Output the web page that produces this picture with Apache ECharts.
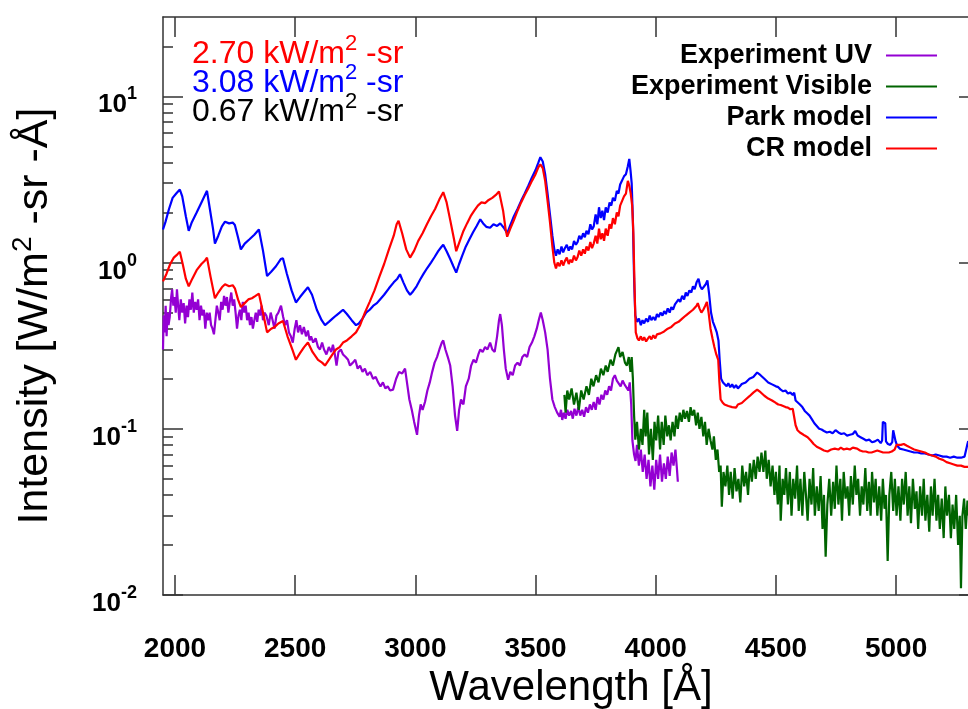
<!DOCTYPE html>
<html><head><meta charset="utf-8">
<script src="https://cdn.jsdelivr.net/npm/echarts@6/dist/echarts.min.js"></script>
<style>html,body{margin:0;padding:0;background:#fff}#c{width:968px;height:709px}</style>
</head><body><div id="c"></div>
<script>
const seriesNames = ['Experiment UV','Experiment Visible','Park model','CR model'];
const seriesColors = ['#9400D3','#006400','#0000FF','#FF0000'];
const xTicks = [2000,2500,3000,3500,4000,4500,5000];
const yMajor = [0.01,0.1,1,10];
const yMinor = [0.02,0.03,0.04,0.05,0.06,0.07,0.08,0.09,0.2,0.3,0.4,0.5,0.6,0.7,0.8,0.9,2,3,4,5,6,7,8,9,20];
const annotations = [['2.70','#FF0000'],['3.08','#0000FF'],['0.67','#000000']];

const uvData = [
[1950,0.3],[1953,0.48],[1957,0.38],[1961,0.55],[1965,0.36],[1969,0.5],[1973,0.42],[1978,0.47],[1984,0.62],[1988,0.69],[1993,0.55],[1998,0.62],[2003,0.5],[2008,0.69],[2013,0.55],[2018,0.45],[2024,0.6],[2030,0.5],[2036,0.57],[2042,0.43],[2048,0.55],[2054,0.47],[2060,0.6],[2066,0.52],[2072,0.66],[2078,0.5],[2084,0.58],[2090,0.52],[2096,0.6],[2102,0.45],[2108,0.55],[2114,0.48],[2120,0.52],[2126,0.4],[2132,0.5],[2138,0.45],[2144,0.5],[2150,0.42],[2156,0.4],[2162,0.37],[2168,0.45],[2174,0.55],[2180,0.5],[2186,0.45],[2192,0.58],[2198,0.52],[2204,0.63],[2210,0.55],[2216,0.62],[2222,0.5],[2228,0.58],[2234,0.66],[2240,0.55],[2246,0.6],[2252,0.5],[2258,0.4],[2264,0.48],[2270,0.52],[2276,0.45],[2282,0.58],[2288,0.5],[2294,0.55],[2300,0.45],[2306,0.5],[2312,0.42],[2318,0.47],[2324,0.4],[2330,0.45],[2336,0.5],[2342,0.44],[2348,0.52],[2354,0.48],[2360,0.55],[2366,0.45],[2372,0.5],
[2380,0.48],[2390,0.42],[2398,0.5],[2406,0.45],[2414,0.4],[2422,0.48],[2430,0.5],[2441,0.55],[2450,0.47],[2458,0.42],[2466,0.45],[2474,0.38],[2482,0.36],[2490,0.33],[2498,0.4],[2505,0.45],[2512,0.38],[2520,0.42],[2528,0.37],[2536,0.41],[2545,0.36],[2553,0.39],[2560,0.34],[2566,0.36],[2575,0.33],[2585,0.35],[2595,0.31],[2603,0.3],[2612,0.33],[2620,0.3],[2630,0.28],[2640,0.31],[2650,0.29],[2657,0.32],[2665,0.28],[2672,0.24],[2680,0.29],[2690,0.3],[2699,0.28],[2710,0.27],[2720,0.26],[2728,0.24],[2740,0.25],[2750,0.26],[2760,0.23],[2770,0.24],[2780,0.22],[2790,0.23],[2800,0.21],[2812,0.22],[2824,0.2],[2835,0.205],[2845,0.19],[2855,0.18],[2865,0.19],[2875,0.175],[2885,0.18],[2895,0.17],[2907,0.172],[2920,0.2],[2932,0.22],[2945,0.215],[2957,0.23],[2965,0.19],[2975,0.15],[2985,0.13],[2995,0.11],[3007,0.092],[3015,0.12],[3022,0.14],[3030,0.13],[3040,0.145],[3050,0.17],[3060,0.19],[3070,0.22],[3080,0.25],[3090,0.27],[3100,0.3],[3110,0.33],[3116,0.34],[3125,0.3],[3135,0.27],[3145,0.24],[3155,0.18],[3165,0.12],[3174,0.097],[3182,0.13],[3190,0.15],[3200,0.14],[3210,0.18],[3222,0.2],[3232,0.24],[3242,0.26],[3252,0.25],[3262,0.28],[3270,0.3],[3280,0.29],[3290,0.31],[3300,0.3],[3311,0.33],[3320,0.3],[3330,0.29],[3340,0.36],[3348,0.45],[3353,0.49],[3360,0.42],[3368,0.3],[3376,0.23],[3386,0.197],[3395,0.22],[3405,0.21],[3415,0.24],[3425,0.25],[3435,0.24],[3445,0.27],[3455,0.28],[3465,0.27],[3475,0.31],[3485,0.33],[3495,0.36],[3505,0.4],[3515,0.46],[3522,0.5],[3530,0.45],[3540,0.38],[3550,0.3],[3560,0.2],[3570,0.15],[3580,0.135],[3590,0.125],[3600,0.118],[3606,0.13],[3611,0.113],[3618,0.125],[3625,0.115],[3632,0.13],[3640,0.12],[3648,0.128],[3655,0.115],[3662,0.132],[3670,0.12],[3678,0.135],[3686,0.12],[3694,0.13],[3702,0.118],[3710,0.135],[3718,0.125],[3726,0.14],[3734,0.13],[3742,0.145],[3750,0.13],[3758,0.155],[3766,0.14],[3774,0.16],[3782,0.15],[3790,0.17],[3798,0.16],[3806,0.18],[3814,0.17],[3822,0.2],[3830,0.21],[3838,0.195],[3846,0.2],[3854,0.18],[3862,0.195],[3870,0.185],[3878,0.19],[3886,0.17],[3892,0.19],[3898,0.14],[3903,0.085],[3910,0.07],[3916,0.064],[3922,0.08],[3930,0.06],[3938,0.075],[3946,0.055],[3954,0.07],[3962,0.05],[3970,0.065],[3978,0.045],[3986,0.06],[3994,0.043],[4002,0.065],[4010,0.05],[4018,0.07],[4026,0.048],[4034,0.062],[4042,0.05],[4050,0.068],[4058,0.052],[4066,0.072],[4074,0.06],[4082,0.075],[4088,0.058],[4092,0.048]
];

const visData = [
[3620,0.16],[3625,0.125],[3632,0.17],[3640,0.15],[3650,0.175],[3660,0.14],[3670,0.165],[3680,0.13],[3690,0.17],[3700,0.15],[3712,0.18],[3722,0.16],[3732,0.2],[3741,0.18],[3752,0.21],[3762,0.19],[3772,0.23],[3782,0.21],[3792,0.24],[3800,0.22],[3812,0.26],[3822,0.24],[3832,0.28],[3845,0.31],[3852,0.27],[3862,0.29],[3872,0.25],[3880,0.24],[3888,0.27],[3895,0.22],[3900,0.27],[3905,0.2],[3910,0.12],[3915,0.086],[3922,0.11],[3930,0.075],[3938,0.1],[3945,0.08],[3952,0.13],[3958,0.09],[3965,0.125],[3972,0.07],[3980,0.1],[3988,0.065],[3995,0.11],[4002,0.085],[4010,0.12],[4018,0.075],[4025,0.11],[4033,0.08],[4040,0.12],[4048,0.09],[4055,0.105],[4062,0.085],[4070,0.11],[4078,0.09],[4085,0.12],[4092,0.1],[4100,0.125],[4108,0.11],[4115,0.13],[4122,0.115],[4130,0.128],[4138,0.11],[4145,0.135],[4152,0.12],[4160,0.13],[4168,0.105],[4175,0.125],[4182,0.1],[4190,0.118],[4198,0.09],[4205,0.11],[4212,0.08],[4220,0.1],[4228,0.085],[4236,0.075],[4242,0.09],[4250,0.065],[4257,0.075],[4264,0.055],[4270,0.06],[4275,0.034],[4282,0.055],[4290,0.045],[4298,0.06],[4305,0.04],[4312,0.055],[4320,0.038],[4328,0.058],[4336,0.042],[4344,0.05],[4352,0.036],[4360,0.06],[4368,0.045],[4376,0.055],[4384,0.04],[4392,0.062],[4400,0.048],[4408,0.065],[4416,0.05],[4424,0.068],[4432,0.055],[4440,0.072],[4448,0.055],[4456,0.074],[4462,0.05],[4470,0.065],[4478,0.045],[4486,0.06],[4494,0.04],[4500,0.055],[4508,0.035],[4515,0.06],[4520,0.028],[4528,0.05],[4535,0.04],[4542,0.058],[4550,0.035],[4558,0.055],[4565,0.03],[4572,0.05],[4580,0.038],[4588,0.06],[4595,0.032],[4602,0.05],[4610,0.03],[4618,0.055],[4625,0.04],[4632,0.028],[4640,0.05],[4648,0.035],[4655,0.058],[4662,0.03],[4670,0.045],[4678,0.032],[4686,0.052],[4694,0.025],[4700,0.04],[4707,0.017],[4714,0.035],[4722,0.05],[4730,0.03],[4738,0.048],[4745,0.033],[4752,0.06],[4760,0.035],[4768,0.05],[4775,0.028],[4782,0.055],[4790,0.038],[4798,0.045],[4805,0.03],[4812,0.052],[4820,0.035],[4828,0.06],[4835,0.04],[4842,0.05],[4850,0.03],[4857,0.045],[4864,0.035],[4872,0.058],[4880,0.032],[4887,0.048],[4894,0.03],[4900,0.055],[4908,0.036],[4915,0.05],[4922,0.03],[4930,0.045],[4938,0.028],[4945,0.05],[4952,0.033],[4958,0.04],[4965,0.016],[4972,0.04],[4980,0.055],[4988,0.032],[4995,0.05],[5002,0.03],[5010,0.045],[5018,0.028],[5025,0.05],[5032,0.035],[5040,0.055],[5048,0.03],[5055,0.045],[5062,0.027],[5070,0.05],[5078,0.033],[5085,0.042],[5092,0.025],[5100,0.045],[5108,0.03],[5115,0.05],[5122,0.028],[5130,0.04],[5138,0.024],[5145,0.045],[5152,0.03],[5160,0.05],[5168,0.028],[5175,0.04],[5182,0.025],[5190,0.038],[5198,0.022],[5205,0.045],[5212,0.03],[5220,0.04],[5228,0.022],[5235,0.035],[5242,0.025],[5250,0.04],[5258,0.02],[5265,0.03],[5270,0.011],[5276,0.03],[5283,0.038],[5290,0.025],[5297,0.037],[5303,0.03]
];

const parkData = [
[1950,1.58],[1960,1.75],[1975,2.1],[1990,2.45],[2005,2.6],[2020,2.75],[2030,2.5],[2045,1.9],[2057,1.55],[2070,1.75],[2090,2.0],[2110,2.3],[2133,2.7],[2145,2.1],[2158,1.6],[2166,1.3],[2180,1.45],[2195,1.65],[2208,1.76],[2225,1.72],[2240,1.74],[2249,1.68],[2262,1.42],[2274,1.2],[2290,1.3],[2310,1.38],[2330,1.47],[2349,1.58],[2366,1.18],[2383,0.83],[2400,0.88],[2420,0.95],[2440,1.05],[2449,1.06],[2465,0.86],[2485,0.68],[2503,0.575],[2520,0.62],[2535,0.66],[2553,0.71],[2570,0.64],[2590,0.52],[2610,0.45],[2624,0.42],[2640,0.44],[2655,0.46],[2670,0.48],[2685,0.5],[2699,0.52],[2715,0.49],[2735,0.45],[2753,0.42],[2765,0.43],[2780,0.46],[2795,0.5],[2810,0.52],[2825,0.55],[2840,0.57],[2853,0.6],[2870,0.64],[2890,0.7],[2910,0.76],[2925,0.8],[2936,0.85],[2950,0.76],[2965,0.68],[2978,0.64],[2990,0.67],[3005,0.72],[3020,0.79],[3035,0.86],[3050,0.93],[3065,1.0],[3080,1.08],[3095,1.17],[3108,1.24],[3116,1.28],[3130,1.17],[3145,1.05],[3158,0.95],[3170,0.87],[3182,0.98],[3195,1.1],[3210,1.25],[3225,1.38],[3240,1.52],[3255,1.66],[3270,1.82],[3282,1.72],[3295,1.64],[3311,1.62],[3325,1.7],[3340,1.66],[3353,1.72],[3368,1.62],[3382,1.5],[3395,1.68],[3410,1.9],[3425,2.1],[3440,2.35],[3455,2.6],[3470,2.9],[3485,3.25],[3500,3.6],[3512,4.0],[3520,4.3],[3530,4.05],[3540,3.4],[3550,2.6],[3560,1.95],[3570,1.45],[3578,1.2],[3585,1.1],[3592,1.2],[3600,1.12],[3608,1.25],[3615,1.15],[3622,1.22],[3630,1.28],[3638,1.18],[3645,1.25],[3652,1.2],[3660,1.35],[3668,1.28],[3675,1.33],[3682,1.45],[3690,1.38],[3698,1.5],[3705,1.42],[3712,1.55],[3720,1.48],[3728,1.7],[3735,1.58],[3742,1.65],[3750,1.95],[3757,1.7],[3764,2.15],[3771,1.85],[3778,2.05],[3785,1.8],[3792,2.15],[3800,2.0],[3808,2.3],[3815,2.2],[3822,2.45],[3830,2.35],[3838,2.7],[3845,2.6],[3852,2.95],[3860,2.9],[3868,3.3],[3876,3.4],[3884,3.8],[3890,4.2],[3895,3.6],[3900,3.0],[3905,1.8],[3910,0.8],[3915,0.48],[3922,0.44],[3930,0.46],[3938,0.42],[3945,0.45],[3952,0.43],[3960,0.46],[3968,0.44],[3975,0.48],[3982,0.45],[3990,0.47],[3998,0.45],[4005,0.49],[4012,0.47],[4020,0.5],[4028,0.48],[4035,0.51],[4042,0.49],[4050,0.53],[4058,0.5],[4065,0.54],[4072,0.52],[4080,0.56],[4088,0.55],[4095,0.6],[4102,0.58],[4110,0.63],[4118,0.6],[4125,0.66],[4132,0.63],[4140,0.68],[4148,0.66],[4155,0.72],[4162,0.69],[4170,0.76],[4178,0.8],[4185,0.72],[4192,0.69],[4200,0.7],[4208,0.74],[4215,0.78],[4222,0.65],[4230,0.5],[4238,0.44],[4246,0.41],[4254,0.38],[4261,0.34],[4266,0.26],[4272,0.2],[4280,0.19],[4288,0.185],[4295,0.18],[4302,0.188],[4310,0.178],[4318,0.185],[4326,0.176],[4334,0.183],[4342,0.175],[4350,0.18],[4358,0.186],[4366,0.182],[4374,0.19],[4382,0.195],[4390,0.2],[4398,0.197],[4406,0.205],[4414,0.21],[4422,0.218],[4428,0.222],[4436,0.21],[4444,0.205],[4452,0.2],[4460,0.198],[4468,0.19],[4476,0.192],[4484,0.185],[4492,0.186],[4500,0.18],[4510,0.178],[4520,0.172],[4530,0.168],[4540,0.17],[4550,0.163],[4560,0.165],[4570,0.16],[4576,0.165],[4582,0.148],[4590,0.145],[4600,0.14],[4610,0.135],[4620,0.128],[4630,0.124],[4640,0.12],[4650,0.114],[4660,0.108],[4670,0.104],[4680,0.1],[4690,0.099],[4700,0.097],[4712,0.095],[4724,0.096],[4736,0.094],[4748,0.098],[4760,0.095],[4772,0.093],[4784,0.094],[4796,0.091],[4808,0.092],[4820,0.093],[4830,0.097],[4840,0.091],[4852,0.089],[4864,0.087],[4876,0.085],[4888,0.086],[4900,0.083],[4912,0.084],[4924,0.086],[4936,0.082],[4942,0.085],[4945,0.11],[4951,0.113],[4955,0.108],[4958,0.084],[4966,0.081],[4976,0.08],[4984,0.083],[4988,0.098],[4994,0.099],[4998,0.084],[5005,0.079],[5015,0.076],[5030,0.075],[5045,0.074],[5060,0.073],[5075,0.072],[5090,0.072],[5105,0.071],[5120,0.071],[5135,0.07],[5150,0.069],[5165,0.07],[5180,0.069],[5195,0.068],[5210,0.068],[5225,0.067],[5240,0.068],[5255,0.067],[5270,0.067],[5285,0.068],[5292,0.067],[5296,0.08],[5300,0.084],[5305,0.083]
];

const crData = [
[1950,0.77],[1965,0.86],[1980,0.98],[1995,1.07],[2010,1.12],[2020,1.16],[2032,0.98],[2045,0.8],[2057,0.72],[2072,0.8],[2090,0.9],[2110,0.98],[2125,1.03],[2133,1.07],[2148,0.82],[2166,0.61],[2180,0.66],[2195,0.71],[2208,0.74],[2225,0.72],[2240,0.73],[2249,0.7],[2262,0.6],[2274,0.54],[2290,0.57],[2305,0.6],[2320,0.61],[2335,0.63],[2349,0.65],[2366,0.5],[2383,0.38],[2400,0.4],[2415,0.41],[2430,0.43],[2449,0.445],[2468,0.36],[2488,0.3],[2503,0.26],[2520,0.285],[2537,0.31],[2553,0.33],[2572,0.29],[2595,0.26],[2612,0.25],[2624,0.24],[2640,0.26],[2655,0.28],[2670,0.3],[2685,0.31],[2699,0.33],[2715,0.34],[2735,0.36],[2753,0.38],[2770,0.42],[2790,0.5],[2810,0.58],[2830,0.68],[2850,0.82],[2870,0.98],[2890,1.2],[2910,1.45],[2922,1.7],[2930,1.78],[2945,1.5],[2962,1.2],[2978,1.07],[2995,1.18],[3012,1.35],[3030,1.5],[3048,1.7],[3065,1.9],[3082,2.1],[3100,2.4],[3116,2.65],[3130,2.3],[3145,1.8],[3160,1.4],[3170,1.17],[3185,1.35],[3200,1.55],[3215,1.72],[3230,1.9],[3245,2.05],[3260,2.2],[3275,2.3],[3290,2.28],[3305,2.38],[3320,2.45],[3335,2.55],[3348,2.68],[3355,2.7],[3365,2.05],[3375,1.6],[3382,1.43],[3395,1.6],[3410,1.8],[3425,2.05],[3440,2.3],[3455,2.55],[3470,2.8],[3485,3.1],[3500,3.4],[3512,3.75],[3520,3.9],[3530,3.7],[3540,3.1],[3550,2.35],[3560,1.75],[3570,1.25],[3578,1.0],[3585,0.92],[3592,1.0],[3600,0.95],[3608,1.03],[3615,0.96],[3622,1.02],[3630,1.07],[3638,0.98],[3645,1.04],[3652,1.0],[3660,1.1],[3668,1.03],[3675,1.08],[3682,1.18],[3690,1.1],[3698,1.2],[3705,1.13],[3712,1.25],[3720,1.18],[3728,1.33],[3735,1.22],[3742,1.3],[3750,1.45],[3757,1.3],[3764,1.6],[3771,1.38],[3778,1.5],[3785,1.35],[3792,1.6],[3800,1.45],[3808,1.7],[3815,1.6],[3822,1.85],[3830,1.7],[3838,2.0],[3845,1.9],[3852,2.2],[3860,2.15],[3868,2.5],[3876,2.6],[3884,3.1],[3890,2.9],[3896,2.6],[3902,2.2],[3907,1.5],[3912,0.7],[3917,0.38],[3924,0.35],[3930,0.34],[3938,0.36],[3945,0.34],[3952,0.355],[3960,0.335],[3968,0.35],[3975,0.36],[3982,0.345],[3990,0.365],[3998,0.35],[4005,0.37],[4012,0.36],[4020,0.375],[4028,0.365],[4035,0.385],[4042,0.375],[4050,0.4],[4058,0.39],[4065,0.41],[4072,0.4],[4080,0.43],[4088,0.42],[4095,0.44],[4102,0.43],[4110,0.46],[4118,0.45],[4125,0.48],[4132,0.47],[4140,0.5],[4148,0.49],[4155,0.52],[4162,0.51],[4170,0.55],[4175,0.57],[4182,0.53],[4190,0.5],[4198,0.52],[4206,0.55],[4213,0.58],[4220,0.5],[4228,0.4],[4236,0.35],[4244,0.31],[4252,0.28],[4260,0.26],[4265,0.19],[4270,0.15],[4278,0.144],[4286,0.14],[4294,0.142],[4302,0.137],[4310,0.14],[4318,0.135],[4326,0.138],[4334,0.134],[4342,0.14],[4350,0.138],[4358,0.143],[4366,0.145],[4374,0.15],[4382,0.152],[4390,0.157],[4398,0.16],[4406,0.165],[4414,0.168],[4422,0.172],[4428,0.174],[4436,0.166],[4444,0.162],[4452,0.158],[4460,0.155],[4468,0.152],[4476,0.15],[4484,0.148],[4492,0.146],[4500,0.143],[4510,0.14],[4520,0.139],[4530,0.137],[4540,0.135],[4550,0.134],[4560,0.131],[4570,0.132],[4576,0.13],[4582,0.105],[4590,0.098],[4600,0.095],[4610,0.093],[4620,0.091],[4632,0.089],[4645,0.085],[4657,0.081],[4670,0.078],[4685,0.076],[4700,0.074],[4715,0.073],[4730,0.075],[4745,0.076],[4760,0.075],[4770,0.077],[4782,0.075],[4795,0.076],[4808,0.075],[4820,0.077],[4828,0.079],[4838,0.076],[4850,0.074],[4862,0.073],[4874,0.073],[4886,0.072],[4898,0.072],[4910,0.073],[4922,0.074],[4934,0.073],[4946,0.072],[4958,0.072],[4970,0.072],[4982,0.073],[4994,0.075],[5002,0.08],[5010,0.078],[5020,0.08],[5032,0.081],[5045,0.079],[5060,0.077],[5075,0.075],[5090,0.074],[5105,0.073],[5120,0.072],[5135,0.07],[5150,0.069],[5165,0.068],[5180,0.066],[5195,0.065],[5210,0.063],[5225,0.062],[5240,0.061],[5255,0.06],[5270,0.06],[5285,0.059],[5305,0.059]
];

const FONT = '"Liberation Sans", Arial, Helvetica, sans-serif';
const AX = '#333333';
const X_MIN = 1950, X_MAX = 5345, Y_MIN = 0.01, Y_MAX = 30;

function expLabel(v) {
  const e = Math.round(Math.log10(v));
  return '{b|10}{s|' + (e < 0 ? '-' + (-e) : e) + '}';
}

const chart = echarts.init(document.getElementById('c'), null, {renderer: 'canvas'});

const yBase = {type: 'log', logBase: 10, min: Y_MIN, max: Y_MAX, splitLine: {show: false}, axisLabel: {show: false}};

const option = {
  backgroundColor: '#fff',
  animation: false,
  grid: {left: 163, right: -11, top: 17, bottom: 114, containLabel: false, outerBoundsMode: 'none'},
  legend: {
    orient: 'vertical', right: 26, top: 37, align: 'right', selectedMode: false,
    itemWidth: 51, itemHeight: 2, itemGap: 4, icon: 'rect',
    textStyle: {fontSize: 27, fontWeight: 'bold', color: '#000', fontFamily: FONT, lineHeight: 27, padding: [0, 9, 0, 0]},
    data: seriesNames
  },
  xAxis: [
    {type: 'value', min: X_MIN, max: X_MAX, position: 'bottom',
     axisLine: {show: true, lineStyle: {color: AX, width: 1.5}},
     axisTick: {show: true, inside: true, length: 20, customValues: xTicks, lineStyle: {color: AX, width: 1.5}},
     axisLabel: {customValues: xTicks, formatter: v => String(Math.round(v)), fontSize: 28, fontWeight: 'bold', color: '#000', fontFamily: FONT, margin: 40},
     splitLine: {show: false},
     name: 'Wavelength [Å]', nameLocation: 'middle', nameGap: 70,
     nameTextStyle: {fontSize: 42, color: '#000', fontFamily: FONT}},
    {type: 'value', min: X_MIN, max: X_MAX, position: 'top',
     axisLine: {show: true, lineStyle: {color: AX, width: 1.5}},
     axisTick: {show: true, inside: true, length: 20, customValues: xTicks, lineStyle: {color: AX, width: 1.5}},
     axisLabel: {show: false}, splitLine: {show: false}}
  ],
  yAxis: [
    Object.assign({}, yBase, {
      position: 'left',
      axisLine: {show: true, lineStyle: {color: AX, width: 1.5}},
      axisTick: {show: true, inside: true, length: 20, customValues: yMajor, lineStyle: {color: AX, width: 1.5}},
      axisLabel: {show: true, customValues: yMajor, formatter: expLabel, margin: 26, color: '#000',
        rich: {
          b: {fontSize: 26, fontWeight: 'bold', fontFamily: FONT, color: '#000', lineHeight: 26, padding: [18, 0, 0, 0]},
          s: {fontSize: 18, fontWeight: 'bold', fontFamily: FONT, color: '#000', lineHeight: 18, padding: [0, 0, 4, 0]}
        }},
      name: '{a|Intensity [W/m}{s|2}{a| -sr -Å]}', nameLocation: 'middle', nameGap: 106,
      nameTextStyle: {color: '#000', padding: [0, 20, 0, 0], rich: {
        a: {fontSize: 43, fontFamily: FONT, color: '#000', lineHeight: 43},
        s: {fontSize: 28, fontFamily: FONT, color: '#000', lineHeight: 28, padding: [0, 0, 24, 0]}
      }}
    }),
    Object.assign({}, yBase, {
      position: 'left', axisLine: {show: false},
      axisTick: {show: true, inside: true, length: 10, customValues: yMinor, lineStyle: {color: AX, width: 1.5}}
    }),
    Object.assign({}, yBase, {
      position: 'right', axisLine: {show: true, lineStyle: {color: AX, width: 1.5}},
      axisTick: {show: true, inside: true, length: 20, customValues: yMajor, lineStyle: {color: AX, width: 1.5}}
    }),
    Object.assign({}, yBase, {
      position: 'right', axisLine: {show: false},
      axisTick: {show: true, inside: true, length: 10, customValues: yMinor, lineStyle: {color: AX, width: 1.5}}
    })
  ],
  graphic: annotations.map((a, i) => ({
    type: 'text', left: 192, top: 33 + i * 29, z: 10,
    style: {
      text: '{a|' + a[0] + ' kW/m}{s|2}{a| -sr}',
      rich: {
        a: {fontSize: 32, fontFamily: FONT, fill: a[1], lineHeight: 32},
        s: {fontSize: 22, fontFamily: FONT, fill: a[1], lineHeight: 22, padding: [0, 0, 20, 0]}
      }
    }
  })),
  series: [uvData, visData, parkData, crData].map((d, i) => ({
    name: seriesNames[i], type: 'line', data: d, xAxisIndex: 0, yAxisIndex: 0,
    showSymbol: false, symbol: 'none', color: seriesColors[i],
    lineStyle: {color: seriesColors[i], width: 2.2}, clip: true
  }))
};
chart.setOption(option);
</script>
</body></html>
